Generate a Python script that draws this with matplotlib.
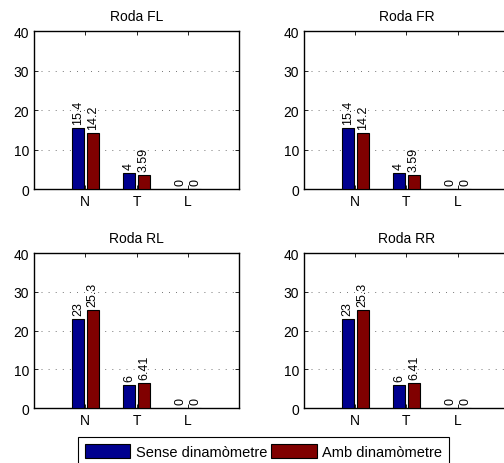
import matplotlib
matplotlib.use('Agg')
import matplotlib.pyplot as plt
import numpy as np
from matplotlib.patches import Patch

plt.rcParams['font.family'] = ['Liberation Sans', 'DejaVu Sans']

categories = ['N', 'T', 'L']
titles = ['Roda FL', 'Roda FR', 'Roda RL', 'Roda RR']
sense_fl = [15.4, 4, 0]
amb_fl = [14.2, 3.59, 0]
sense_fr = [15.4, 4, 0]
amb_fr = [14.2, 3.59, 0]
sense_rl = [23, 6, 0]
amb_rl = [25.3, 6.41, 0]
sense_rr = [23, 6, 0]
amb_rr = [25.3, 6.41, 0]
series_names = ['Sense dinamòmetre', 'Amb dinamòmetre']

blue = '#00008f'
red = '#800000'

fig = plt.figure(figsize=(5.04, 4.64), dpi=100)
positions = [
    [0.0675, 0.5905, 0.407, 0.3405],
    [0.603, 0.5905, 0.407, 0.3405],
    [0.0675, 0.1185, 0.407, 0.334],
    [0.603, 0.1185, 0.407, 0.334],
]
data = [(sense_fl, amb_fl), (sense_fr, amb_fr), (sense_rl, amb_rl), (sense_rr, amb_rr)]

x = np.arange(1, len(categories) + 1)
w = 0.23
for pos, title, (s, a) in zip(positions, titles, data):
    ax = fig.add_axes(pos)
    b1 = ax.bar(x - 0.145, s, w, color=blue, edgecolor='black', linewidth=0.8, zorder=3)
    b2 = ax.bar(x + 0.145, a, w, color=red, edgecolor='black', linewidth=0.8, zorder=3)
    for bars, vals in ((b1, s), (b2, a)):
        for r, v in zip(bars, vals):
            ax.annotate('%g' % v, (r.get_x() + r.get_width() / 2, r.get_height()),
                        xytext=(0, 3), textcoords='offset points',
                        rotation=90, ha='center', va='bottom', fontsize=9)
    ax.set_xlim(0, 4)
    ax.set_ylim(0, 40)
    ax.set_xticks(x)
    ax.set_xticklabels(categories)
    ax.set_yticks([0, 10, 20, 30, 40])
    ax.tick_params(direction='in', top=True, right=True, length=3, labelsize=10, width=0.6)
    ax.yaxis.grid(True, linestyle=(0, (1, 7.5)), color='#444444', linewidth=0.6)
    ax.set_axisbelow(True)
    for sp in ax.spines.values():
        sp.set_linewidth(1.0)
    ax.set_title(title, fontsize=10, pad=8)

handles = [Patch(facecolor=blue, edgecolor='black', linewidth=0.8),
           Patch(facecolor=red, edgecolor='black', linewidth=0.8)]
leg = fig.legend(handles, series_names, loc='upper left', bbox_to_anchor=(78 / 504, 1 - 438 / 464),
                 ncol=2, fontsize=10.5, fancybox=False, edgecolor='black', framealpha=1,
                 handlelength=3.1, handleheight=1.1, columnspacing=0.3, handletextpad=0.4,
                 borderaxespad=0, borderpad=0.45)
leg.get_frame().set_linewidth(0.8)

fig.savefig('out.png', dpi=100)
